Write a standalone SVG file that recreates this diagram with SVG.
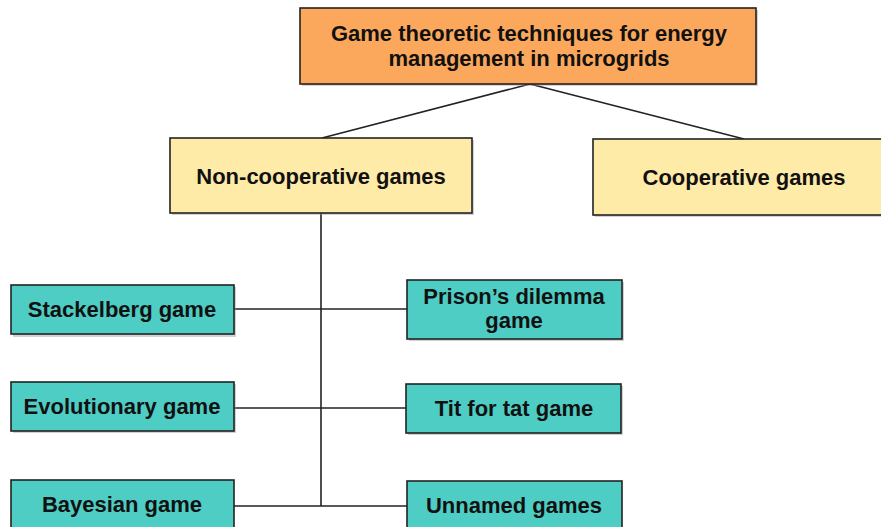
<svg xmlns="http://www.w3.org/2000/svg" width="881" height="527" viewBox="0 0 881 527">
  <defs>
    <style>
      .box { stroke: #222; stroke-width: 1.6; }
      .root { fill: #FBA85C; }
      .cat { fill: #FFEBA8; }
      .leaf { fill: #4ECDC5; }
      .shadow { fill: #9a9a9a; opacity: 0.45; }
      .lbl { font-family: "Liberation Sans", Arial, sans-serif; font-weight: bold; font-size: 22px; fill: #111; text-anchor: middle; }
      .wire { stroke: #222; stroke-width: 1.6; fill: none; }
    </style>
  </defs>
  <rect width="881" height="527" fill="#fff"/>

  <g id="connectors">
    <line class="wire" x1="530" y1="84" x2="322" y2="138"/>
    <line class="wire" x1="530" y1="84" x2="744" y2="139"/>
    <line class="wire" x1="321" y1="213" x2="321" y2="506"/>
    <line class="wire" x1="233" y1="309" x2="407" y2="309"/>
    <line class="wire" x1="233" y1="408" x2="407" y2="408"/>
    <line class="wire" x1="233" y1="506" x2="407" y2="506"/>
  </g>

  <g id="root">
    <rect class="shadow" x="302" y="10" width="456" height="76"/>
    <rect class="box root" x="300" y="8" width="456" height="76"/>
    <text class="lbl" x="529" y="41">Game theoretic techniques for energy</text>
    <text class="lbl" x="529" y="66">management in microgrids</text>
  </g>

  <g id="noncooperative">
    <rect class="shadow" x="172" y="140" width="302" height="75"/>
    <rect class="box cat" x="170" y="138" width="302" height="75"/>
    <text class="lbl" x="321" y="184">Non-cooperative games</text>
  </g>

  <g id="cooperative">
    <rect class="shadow" x="595" y="141" width="302" height="76"/>
    <rect class="box cat" x="593" y="139" width="302" height="76"/>
    <text class="lbl" x="744" y="185">Cooperative games</text>
  </g>

  <g id="stackelberg">
    <rect class="shadow" x="13" y="287" width="223" height="50"/>
    <rect class="box leaf" x="11" y="285" width="223" height="49"/>
    <text class="lbl" x="122" y="317">Stackelberg game</text>
  </g>

  <g id="prisons-dilemma">
    <rect class="shadow" x="409" y="282" width="215" height="59"/>
    <rect class="box leaf" x="407" y="280" width="215" height="59"/>
    <text class="lbl" x="514" y="304">Prison’s dilemma</text>
    <text class="lbl" x="514" y="328">game</text>
  </g>

  <g id="evolutionary">
    <rect class="shadow" x="13" y="384" width="223" height="49"/>
    <rect class="box leaf" x="11" y="382" width="223" height="49"/>
    <text class="lbl" x="122" y="414">Evolutionary game</text>
  </g>

  <g id="tit-for-tat">
    <rect class="shadow" x="408" y="386" width="215" height="49"/>
    <rect class="box leaf" x="406" y="384" width="215" height="49"/>
    <text class="lbl" x="514" y="416">Tit for tat game</text>
  </g>

  <g id="bayesian">
    <rect class="box leaf" x="11" y="480" width="223" height="60"/>
    <text class="lbl" x="122" y="512">Bayesian game</text>
  </g>

  <g id="unnamed">
    <rect class="box leaf" x="407" y="481" width="215" height="60"/>
    <text class="lbl" x="514" y="513">Unnamed games</text>
  </g>
</svg>
